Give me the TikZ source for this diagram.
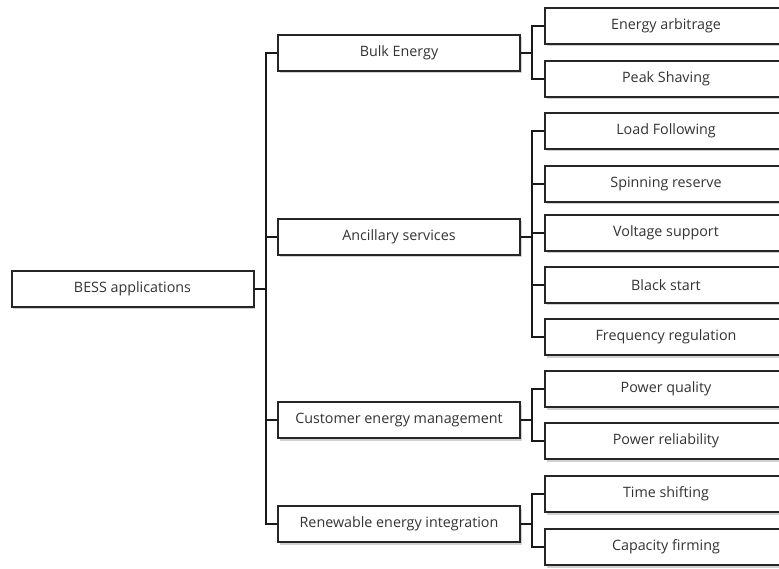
\documentclass[tikz,border=0pt]{standalone}
\usepackage{fontspec}
\setmainfont{Open Sans}
\usetikzlibrary{shadows}
\tikzset{
  appbox/.style={draw=black!85, line width=2pt, fill=white, minimum width=242pt, minimum height=36pt,
    inner sep=0pt, font=\fontsize{14.3}{16}\selectfont, text=black!80,
    drop shadow={shadow xshift=1.5pt, shadow yshift=-2.5pt, opacity=0.3, fill=black!60}},
  link/.style={line width=1.5pt, black!90}
}
\begin{document}
\begin{tikzpicture}[x=1pt,y=-1pt]
  \useasboundingbox (0,0) rectangle (779,569);
  \clip (0,0) rectangle (779,569);
  \node[appbox] (bess) at (132.5,289) {BESS applications};
  % first level
  \node[appbox] (bulk) at (399,53) {Bulk Energy};
  \node[appbox] (ancil) at (399,237) {Ancillary services};
  \node[appbox] (cust) at (399,420) {Customer energy management};
  \node[appbox] (renew) at (399,524) {Renewable energy integration};
  % second level
  \node[appbox] (arb) at (666,26) {Energy arbitrage};
  \node[appbox] (peak) at (666,79) {Peak Shaving};
  \node[appbox] (load) at (666,131) {Load Following};
  \node[appbox] (spin) at (666,184) {Spinning reserve};
  \node[appbox] (volt) at (666,233) {Voltage support};
  \node[appbox] (black) at (666,285) {Black start};
  \node[appbox] (freq) at (666,337) {Frequency regulation};
  \node[appbox] (pq) at (666,389) {Power quality};
  \node[appbox] (prel) at (666,441) {Power reliability};
  \node[appbox] (tshift) at (666,494) {Time shifting};
  \node[appbox] (firm) at (666,547) {Capacity firming};
  \coordinate (trunk) at (266,0);
  \coordinate (branch) at (532,0);
  \foreach \c in {bulk,ancil,cust,renew}
    \draw[link] (bess.east) -- (trunk |- bess.east) |- (\c.west);
  \foreach \p/\c in {bulk/arb,bulk/peak,ancil/load,ancil/spin,ancil/volt,ancil/black,ancil/freq,cust/pq,cust/prel,renew/tshift,renew/firm}
    \draw[link] (\p.east) -- (branch |- \p.east) |- (\c.west);
\end{tikzpicture}
\end{document}
